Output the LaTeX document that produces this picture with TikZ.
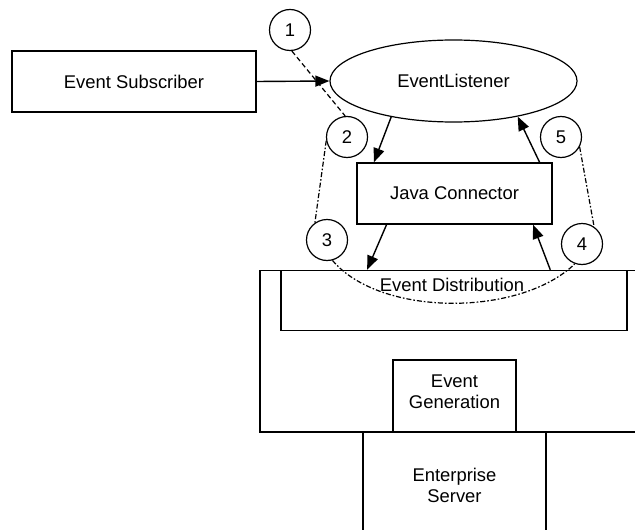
\documentclass[tikz,border=0pt]{standalone}
\usepackage{fontspec}
\setmainfont{Liberation Sans}
\usetikzlibrary{arrows.meta,shapes.geometric,calc}
\begin{document}
\begin{tikzpicture}[x=0.5pt,y=-0.5pt,
  every node/.style={font=\fontsize{9.2}{10.5}\selectfont, inner sep=0pt, line width=0.75pt},
  box/.style={draw, rectangle, align=center},
  num/.style={draw, circle, minimum size=20.5pt, line width=0.6pt},
  txt/.style={align=center},
  arr/.style={line width=0.7pt, -{Triangle[length=7pt,width=5.5pt]}},
  dashline/.style={line width=0.6pt, dash pattern=on 2.5pt off 1.5pt},
  dotline/.style={line width=0.6pt, dash pattern=on 2.5pt off 1pt on 0.8pt off 1pt},
]
\useasboundingbox (0,0) rectangle (635,529);
\clip (0,0) rectangle (635,529);
% boxes
\node[box, minimum width=122pt, minimum height=30.5pt] (sub) at (134,81.5) {Event Subscriber};
\node[draw, ellipse, minimum width=123.5pt, minimum height=41pt, line width=0.6pt] (el) at (453.5,81) {EventListener};
\node[box, minimum width=97.5pt, minimum height=30.5pt] (jc) at (454.5,193.5) {Java Connector};
\node[box, minimum width=200pt, minimum height=80.75pt] (es) at (460,351.25) {};
\node[box, minimum width=173pt, minimum height=30pt] (ed) at (454,300.5) {};
\node[box, minimum width=61.5pt, minimum height=36pt] (eg) at (454.5,396) {};
\node[txt] (egl) at (454.5,392) {Event\\Generation};
\node[box, minimum width=91.5pt, minimum height=54pt] (srv) at (454.5,486) {};
\node[txt] (srvl) at (454.5,485) {Enterprise\\Server};
% numbered circles
\node[num] (c1) at (290,30) {1};
\node[num] (c2) at (347,137) {2};
\node[num] (c3) at (327,240) {3};
\node[num] (c4) at (582,244) {4};
\node[num] (c5) at (561,137) {5};
% dashed connectors
\draw[dashline] (c1.275) -- (c2.95);
\draw[dotline] (c2.190) -- (c3.125);
\draw[dotline] (c5.332) -- (c4.55);
\draw[dotline] (c3.285) .. controls (380,317) and (520,317) .. (c4.250);
\node (edl) at (452,285) {Event Distribution};
% arrows
\draw[arr] (sub.east) -- (el.west);
\draw[arr] (el.210) -- ($(jc.north west)!0.09!(jc.north east)$);
\draw[arr] ($(jc.north west)!0.933!(jc.north east)$) -- (el.331);
\draw[arr] ($(jc.south west)!0.154!(jc.south east)$) -- ($(ed.north west)!0.25!(ed.north east)$);
\draw[arr] ($(ed.north west)!0.777!(ed.north east)$) -- ($(jc.south west)!0.90!(jc.south east)$);
\end{tikzpicture}
\end{document}
